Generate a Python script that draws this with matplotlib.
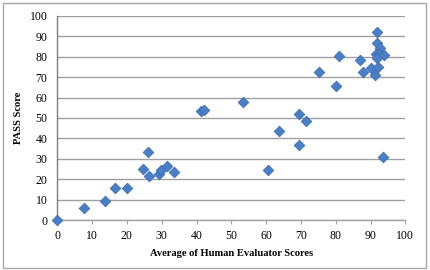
import matplotlib
matplotlib.use("Agg")
import matplotlib.pyplot as plt
from matplotlib.patches import Rectangle

human_scores = [0, 7.8, 13.8, 16.6, 19.9, 24.6, 26.0, 26.3, 29.2, 29.7, 31.6, 33.5,
                41.3, 42.2, 53.4, 60.6, 63.7, 69.5, 69.5, 71.6, 75.3, 80.2,
                81.0, 86.9, 87.8, 92.0, 91.8, 92.7, 91.6, 92.5, 94.0, 92.0,
                90.2, 92.1, 91.3, 93.7]
pass_scores = [0, 6.2, 9.3, 15.6, 15.8, 25.1, 33.2, 21.5, 22.5, 24.4, 26.4, 23.8,
               53.6, 53.9, 58.0, 24.6, 43.5, 52.1, 36.8, 48.4, 72.3, 65.6,
               80.5, 78.3, 72.3, 91.9, 86.5, 84.4, 81.1, 81.1, 80.8, 79.5,
               74.3, 75.1, 71.0, 30.8]

x_ticks = list(range(0, 101, 10))
y_ticks = list(range(0, 101, 10))

plt.rcParams['font.family'] = ['Liberation Serif', 'DejaVu Serif']

fig = plt.figure(figsize=(4.3, 2.7), dpi=100)
fig.patch.set_facecolor('white')
fig.patches.append(Rectangle((0.006, 0.008), 0.985, 0.982, transform=fig.transFigure,
                             fill=False, edgecolor='#a8a8a8', linewidth=1.0))

ax = fig.add_axes([0.1333, 0.1841, 0.8093, 0.7578])
ax.set_xlim(0, 100)
ax.set_ylim(0, 100)
ax.set_xticks(x_ticks)
ax.set_yticks(y_ticks)
ax.grid(axis='y', color='#a0a0a0', linewidth=1.0)
ax.set_axisbelow(True)

ax.scatter(human_scores, pass_scores, marker='D', s=30, facecolor='#4a7fc6',
           edgecolor='#3b6cae', linewidth=0.5, zorder=3, clip_on=False)

for s in ['top', 'right']:
    ax.spines[s].set_visible(False)
ax.spines['left'].set_color('#808080')
ax.spines['bottom'].set_color('#a0a0a0')
ax.spines['left'].set_linewidth(1.0)
ax.spines['bottom'].set_linewidth(1.0)

ax.tick_params(axis='x', direction='out', length=3, color='#a0a0a0', labelsize=8.5, pad=4)
ax.tick_params(axis='y', length=0, labelsize=8.5, pad=7)

ax.set_xlabel('Average of Human Evaluator Scores', fontsize=7.6, fontweight='bold', labelpad=5)
ax.set_ylabel('PASS Score', fontsize=7.6, fontweight='bold', labelpad=5)

fig.savefig('out.png', dpi=100)
